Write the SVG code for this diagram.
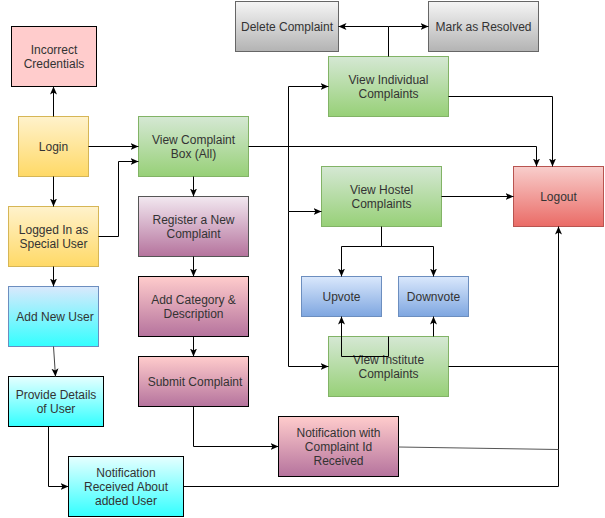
<svg xmlns="http://www.w3.org/2000/svg" width="605" height="518" viewBox="0 0 605 518">
<style>
text{font-family:"Liberation Sans",Arial,sans-serif;font-size:12px;fill:#333;text-anchor:middle}
.c{fill:none;stroke:#000;stroke-width:1;marker-end:url(#a)}
.l{fill:none;stroke:#000;stroke-width:1}
</style>
<defs>
<marker id="a" markerUnits="userSpaceOnUse" markerWidth="9" markerHeight="8" refX="8" refY="4" orient="auto" viewBox="0 0 9 8"><path d="M0,0.5 L8,4 L0,7.5 L2,4 z" fill="#000"/></marker>
<linearGradient id="gy" x1="0" y1="0" x2="0" y2="1"><stop offset="0" stop-color="#fff2cc"/><stop offset="1" stop-color="#ffd966"/></linearGradient>
<linearGradient id="gg" x1="0" y1="0" x2="0" y2="1"><stop offset="0" stop-color="#d5e8d4"/><stop offset="1" stop-color="#97d077"/></linearGradient>
<linearGradient id="gr" x1="0" y1="0" x2="0" y2="1"><stop offset="0" stop-color="#f8cecc"/><stop offset="1" stop-color="#ea6b66"/></linearGradient>
<linearGradient id="gb" x1="0" y1="0" x2="0" y2="1"><stop offset="0" stop-color="#dae8fc"/><stop offset="1" stop-color="#7ea6e0"/></linearGradient>
<linearGradient id="gs" x1="0" y1="0" x2="0" y2="1"><stop offset="0" stop-color="#f5f5f5"/><stop offset="1" stop-color="#b3b3b3"/></linearGradient>
<linearGradient id="gp1" x1="0" y1="0" x2="0" y2="1"><stop offset="0" stop-color="#f2e8f0"/><stop offset="1" stop-color="#b5739d"/></linearGradient>
<linearGradient id="gp2" x1="0" y1="0" x2="0" y2="1"><stop offset="0" stop-color="#ffcccc"/><stop offset="1" stop-color="#b5739d"/></linearGradient>
<linearGradient id="gc1" x1="0" y1="0" x2="0" y2="1"><stop offset="0" stop-color="#dae8fc"/><stop offset="1" stop-color="#33ffff"/></linearGradient>
<linearGradient id="gc2" x1="0" y1="0" x2="0" y2="1"><stop offset="0" stop-color="#e6ffff"/><stop offset="1" stop-color="#33ffff"/></linearGradient>
</defs>
<g id="incorrect"><rect x="11.5" y="26.5" width="85" height="60" fill="#ffcccc" stroke="#000"/><text x="54" y="53.5">Incorrect</text><text x="54" y="67.5">Credentials</text></g>
<g id="login"><rect x="18.5" y="116.5" width="70" height="60" fill="url(#gy)" stroke="#d6b656"/><text x="53.5" y="150.5">Login</text></g>
<g id="special"><rect x="8.5" y="206.5" width="90" height="60" fill="url(#gy)" stroke="#d6b656"/><text x="53.5" y="233.5">Logged In as</text><text x="53.5" y="247.5">Special User</text></g>
<g id="viewbox"><rect x="138.5" y="116.5" width="110" height="60" fill="url(#gg)" stroke="#82b366"/><text x="193.5" y="143.5">View Complaint</text><text x="193.5" y="157.5">Box (All)</text></g>
<g id="register"><rect x="138.5" y="196.5" width="110" height="60" fill="url(#gp1)" stroke="#555"/><text x="193.5" y="223.5">Register a New</text><text x="193.5" y="237.5">Complaint</text></g>
<g id="category"><rect x="138.5" y="276.5" width="110" height="60" fill="url(#gp2)" stroke="#000"/><text x="193.5" y="303.5">Add Category &amp;</text><text x="193.5" y="317.5">Description</text></g>
<g id="submit"><rect x="138.5" y="356.5" width="110" height="50" fill="url(#gp2)" stroke="#000"/><text x="195" y="385.5">Submit Complaint</text></g>
<g id="adduser"><rect x="8.5" y="286.5" width="90" height="60" fill="url(#gc1)" stroke="#6c8ebf"/><text x="55" y="320.5">Add New User</text></g>
<g id="details"><rect x="8.5" y="376.5" width="95" height="50" fill="url(#gc2)" stroke="#000"/><text x="56" y="398.5">Provide Details</text><text x="56" y="412.5">of User</text></g>
<g id="notifuser"><rect x="68.5" y="456.5" width="115" height="60" fill="url(#gc2)" stroke="#000"/><text x="126" y="476.5">Notification</text><text x="126" y="490.5">Received About</text><text x="126" y="504.5">added User</text></g>
<g id="notifid"><rect x="278.5" y="416.5" width="120" height="60" fill="url(#gp2)" stroke="#000"/><text x="338.5" y="436.5">Notification with</text><text x="338.5" y="450.5">Complaint Id</text><text x="338.5" y="464.5">Received</text></g>
<g id="institute"><rect x="328.5" y="336.5" width="120" height="60" fill="url(#gg)" stroke="#82b366"/><text x="388.5" y="363.5">View Institute</text><text x="388.5" y="377.5">Complaints</text></g>
<g id="upvote"><rect x="301.5" y="276.5" width="80" height="40" fill="url(#gb)" stroke="#6c8ebf"/><text x="341.5" y="300.5">Upvote</text></g>
<g id="downvote"><rect x="398.5" y="276.5" width="70" height="40" fill="url(#gb)" stroke="#6c8ebf"/><text x="433.5" y="300.5">Downvote</text></g>
<g id="hostel"><rect x="321.5" y="166.5" width="120" height="60" fill="url(#gg)" stroke="#82b366"/><text x="381.5" y="193.5">View Hostel</text><text x="381.5" y="207.5">Complaints</text></g>
<g id="logout"><rect x="513.5" y="166.5" width="90" height="60" fill="url(#gr)" stroke="#b85450"/><text x="558.5" y="200.5">Logout</text></g>
<g id="individual"><rect x="328.5" y="56.5" width="120" height="60" fill="url(#gg)" stroke="#82b366"/><text x="388.5" y="83.5">View Individual</text><text x="388.5" y="97.5">Complaints</text></g>
<g id="delete"><rect x="235.5" y="1.5" width="103" height="50" fill="url(#gs)" stroke="#666"/><text x="287" y="30.5">Delete Complaint</text></g>
<g id="resolved"><rect x="428.5" y="1.5" width="110" height="50" fill="url(#gs)" stroke="#666"/><text x="483.5" y="30.5">Mark as Resolved</text></g>
<g id="connectors">
<path class="c" d="M53.5,116.5 V86.5"/>
<path class="c" d="M88.5,146.5 H138.5"/>
<path class="c" d="M53.5,176.5 V206.5"/>
<path class="c" d="M98.5,236.5 H118.5 V161.5 H138.5"/>
<path class="c" d="M248.5,146.5 H536.5 V166.5"/>
<path class="l" d="M288.5,146.5 V86.5"/>
<path class="c" d="M288.5,86.5 H328.5"/>
<path class="c" d="M288.5,146.5 V211.5 H321.5"/>
<path class="c" d="M288.5,211.5 V366.5 H328.5"/>
<path class="c" d="M193.5,176.5 V196.5"/>
<path class="c" d="M193.5,256.5 V276.5"/>
<path class="c" d="M193.5,336.5 V356.5"/>
<path class="c" d="M193.5,406.5 V446.5 H278.5"/>
<path class="c" d="M53.5,266.5 V286.5"/>
<path class="c" d="M53.5,346.5 L55.5,376.5" style="stroke:#444"/>
<path class="c" d="M48.5,426.5 V486.5 H68.5"/>
<path class="c" d="M183.5,486.5 H558.5 V226.5"/>
<path class="l" d="M448.5,366.5 H558.5"/>
<path class="l" d="M398.5,447 L558.5,449.5" style="stroke:#555"/>
<path class="c" d="M448.5,96.5 H552.5 V166.5"/>
<path class="l" d="M388.5,56.5 V26.5"/>
<path class="c" d="M388.5,26.5 H338.5"/>
<path class="c" d="M388.5,26.5 H428.5"/>
<path class="c" d="M441.5,196.5 H513.5"/>
<path class="l" d="M381.5,226.5 V246.5"/>
<path class="c" d="M381.5,246.5 H341.5 V276.5"/>
<path class="c" d="M381.5,246.5 H433.5 V276.5"/>
<path class="c" d="M433.5,336.5 V316.5"/>
<path class="c" d="M388.5,336.5 V356.5 H341.5 V316.5"/>
</g>
</svg>
